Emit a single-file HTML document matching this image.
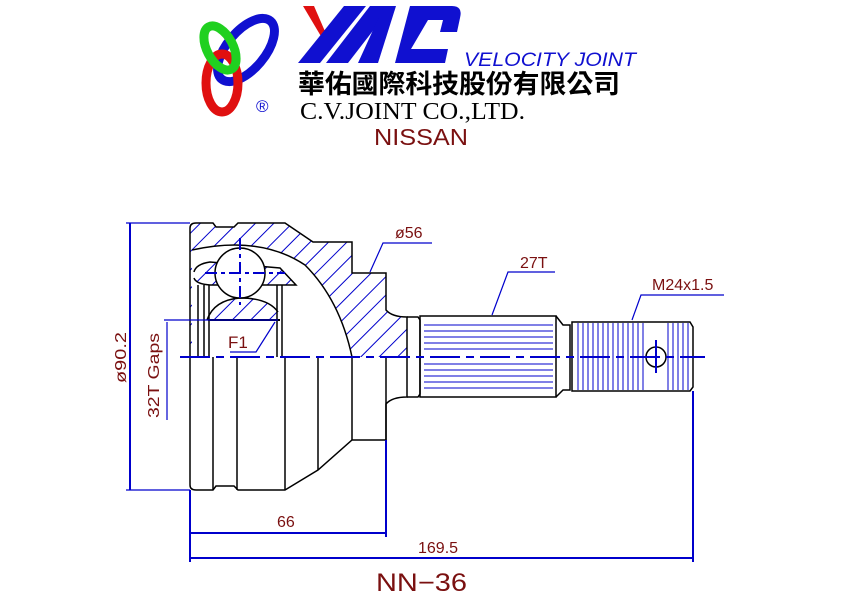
<!DOCTYPE html>
<html><head><meta charset="utf-8"><style>
body{margin:0;background:#fff;width:842px;height:596px;overflow:hidden}
svg{display:block}
</style></head><body>
<svg width="842" height="596" viewBox="0 0 842 596" xmlns="http://www.w3.org/2000/svg">
<defs>
<pattern id="h" patternUnits="userSpaceOnUse" width="13" height="13" patternTransform="rotate(45)">
<line x1="0" y1="0" x2="0" y2="13" stroke="#0000cc" stroke-width="2"/>
</pattern>
<clipPath id="top"><rect x="0" y="0" width="842" height="357"/></clipPath>
</defs>
<!-- Logo -->
<ellipse cx="246" cy="50" rx="38" ry="19" transform="rotate(-50 246 50)" fill="none" stroke="#1010d0" stroke-width="9"/>
<ellipse cx="222" cy="83" rx="16" ry="29" fill="none" stroke="#e01010" stroke-width="9"/>
<ellipse cx="220" cy="48" rx="13" ry="24" transform="rotate(-28 220 48)" fill="none" stroke="#20d020" stroke-width="9"/>
<text x="256" y="112" font-family="Liberation Sans,sans-serif" font-size="17" fill="#1010d0">®</text>
<polygon points="303,6 314,6 327,36 322,38" fill="#e01010"/>
<g fill="#1010d0">
<polygon points="298,63 320,63 366,6 344,6"/>
<polygon points="326,63 348,63 392,6 370,6"/>
<polygon points="358,63 378,63 396,6 384,6"/>
<path d="M410,6 L452,6 Q463,6 460,18 L457,32 L440,32 L443,20 L428,20 L411,49 L448,49 L445,63 L395,63 Z"/>
</g>
<text x="464" y="66" font-family="Liberation Sans,sans-serif" font-style="italic" font-size="19" fill="#1010d0" textLength="172" lengthAdjust="spacingAndGlyphs">VELOCITY JOINT</text>
<text x="298" y="93" font-family="'Liberation Sans','Noto Sans CJK TC',sans-serif" font-weight="bold" font-size="26" fill="#000" textLength="322" lengthAdjust="spacingAndGlyphs">華佑國際科技股份有限公司</text>
<text x="300" y="119" font-family="Liberation Serif,serif" font-size="24" fill="#000" textLength="225" lengthAdjust="spacingAndGlyphs">C.V.JOINT CO.,LTD.</text>
<text x="374" y="145" font-family="Liberation Sans,sans-serif" font-size="23" fill="#7a1010" textLength="94" lengthAdjust="spacingAndGlyphs">NISSAN</text>

<!-- hatched section top half -->
<g clip-path="url(#top)">
<path d="M190,357 L190,228 Q190,223 196,223 L213,223 L216,227 L234,227 L238,223 L285,223 L313,242 L352,242 L352,273 L386,273 L386,310 Q392,317 407,317 L407,357 Z" fill="url(#h)" stroke="none"/>
<path d="M192,250 Q260,235 305,265 Q340,300 352,357 L192,357 Z" fill="#fff"/>
<path d="M194,272 Q196,264 210,262 L280,268 L296,285 L210,285 Q196,284 194,278 Z" fill="url(#h)"/>
<path d="M207,320 Q214,300 240,298 Q268,298 278,312 L278,320 Z" fill="url(#h)"/>
</g>
<g fill="none" stroke="#000" stroke-width="1.5">
<path d="M190,357 L190,228 Q190,223 196,223 L213,223 L216,227 L234,227 L238,223 L285,223 L313,242 L352,242 L352,273 L386,273 L386,310 Q392,317 407,317 L407,397 Q392,397 386,404 L386,440 L352,440 L318,470 L285,490 L238,490 L234,486 L216,486 L213,490 L196,490 Q190,490 190,485 Z"/>
<path d="M192,250 Q260,235 305,265 Q340,300 352,357"/>
<path d="M194,272 Q196,264 210,262 L280,268 L296,285 L210,285 Q196,284 194,278"/>
<line x1="213" y1="357" x2="213" y2="490"/>
<line x1="237" y1="357" x2="237" y2="490"/>
<line x1="285" y1="357" x2="285" y2="490"/>
<line x1="318" y1="357" x2="318" y2="470"/>
<line x1="352" y1="357" x2="352" y2="440"/>
<line x1="386" y1="357" x2="386" y2="440"/>
<line x1="198" y1="285" x2="198" y2="357"/>
<line x1="204" y1="285" x2="204" y2="357"/>
<line x1="209" y1="285" x2="209" y2="357"/>
<line x1="277" y1="285" x2="277" y2="357"/>
<line x1="282" y1="285" x2="282" y2="357"/>
<path d="M207,320 Q214,300 240,298 Q268,298 278,312"/>
<line x1="208" y1="320" x2="280" y2="320" stroke-width="2"/>
<circle cx="240" cy="273" r="25" fill="#fff"/>
<path d="M407,317 L418,317 L420,320 L420,394 L418,397 L407,397"/>
<rect x="420" y="316" width="136" height="81"/>
<path d="M556,316 L563,325 L570,325 L570,390 L563,390 L556,397"/>
<path d="M572,322 L690,322 L693,327 L693,387 L690,391 L572,391 Z"/>
<circle cx="656" cy="357" r="10"/>
</g>
<g stroke="#0000cc" stroke-width="1">
<path d="M424,325H553M424,331H553M424,337H553M424,343H553M424,349H553M424,364H553M424,370H553M424,376H553M424,382H553M424,388H553"/>
<path d="M578,323V390M583,323V390M588,323V390M593,323V390M598,323V390M603,323V390M608,323V390M613,323V390M618,323V390M623,323V390M628,323V390M633,323V390M638,323V390M643,323V390M668,323V390M673,323V390M678,323V390M683,323V390M688,323V390"/>
</g>
<!-- center lines -->
<g stroke="#0000cc" stroke-width="2" fill="none">
<line x1="180" y1="357" x2="705" y2="357" stroke-dasharray="30,6,8,6"/>
<line x1="240" y1="238" x2="240" y2="305" stroke-dasharray="12,4,4,4"/>
<line x1="205" y1="273" x2="285" y2="273" stroke-dasharray="12,4,4,4"/>
<line x1="656" y1="340" x2="656" y2="373"/>
<!-- dims -->
<line x1="130" y1="223" x2="130" y2="490"/>
<line x1="126" y1="223" x2="190" y2="223" stroke-width="1.2"/>
<line x1="126" y1="490" x2="190" y2="490" stroke-width="1.2"/>
<line x1="167" y1="322" x2="167" y2="420" stroke-width="1.2"/>
<line x1="164" y1="320" x2="278" y2="320" stroke-width="1.2"/>
<path d="M230,352 H256 L275,322" stroke-width="1.2"/>
<path d="M432,243 H383 L370,272" stroke-width="1.2"/>
<path d="M555,272 H508 L492,315" stroke-width="1.2"/>
<path d="M724,295 H641 L632,320" stroke-width="1.2"/>
<line x1="190" y1="490" x2="190" y2="562"/>
<line x1="386" y1="440" x2="386" y2="537"/>
<line x1="693" y1="391" x2="693" y2="562"/>
<line x1="190" y1="533" x2="386" y2="533"/>
<line x1="190" y1="558" x2="693" y2="558"/>
</g>
<g font-family="Liberation Sans,sans-serif" fill="#7a1010" font-size="16">
<text x="395" y="238">ø56</text>
<text x="520" y="268">27T</text>
<text x="652" y="290">M24x1.5</text>
<text x="228" y="348" font-size="17">F1</text>
<text x="277" y="527">66</text>
<text x="418" y="553">169.5</text>
<text transform="translate(126 383) rotate(-90)" textLength="51" lengthAdjust="spacingAndGlyphs">ø90.2</text>
<text transform="translate(159 418) rotate(-90)" textLength="85" lengthAdjust="spacingAndGlyphs">32T Gaps</text>
<text x="376" y="591" font-size="25" textLength="91" lengthAdjust="spacingAndGlyphs">NN−36</text>
</g>
</svg>
</body></html>
